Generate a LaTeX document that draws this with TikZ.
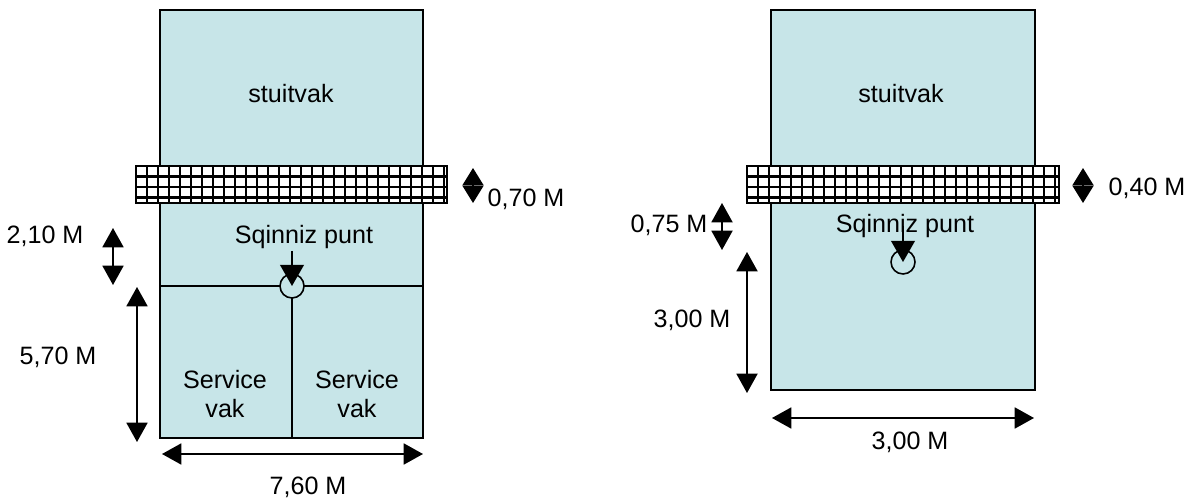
\documentclass[tikz,border=0pt]{standalone}
\usepackage{fontspec}
\setmainfont{Liberation Sans}
\usetikzlibrary{arrows.meta}
\definecolor{courtblue}{RGB}{199,229,232}
\begin{document}
\begin{tikzpicture}[x=0.02cm,y=-0.02cm]
\tikzset{court/.style = {draw,line width=1.1pt,fill=courtblue}}
\tikzset{txt/.style = {font=\fontsize{14.3}{16.5}\selectfont,inner sep=0pt,align=center}}
\tikzset{spot/.style = {shape=circle,draw,fill=courtblue,line width=0.9pt,minimum size=0.48cm,inner sep=0pt}}
\tikzset{dim/.style = {<->,line width=0.9pt,>={Triangle[length=11pt,width=12pt]}}}
\tikzset{pointer/.style = {->,line width=0.9pt,>={Triangle[length=12pt,width=13.5pt]}}}
\tikzset{gauge/.style = {<->,line width=0.9pt,>={Triangle[length=9.9pt,width=12pt]}}}
\tikzset{mesh/.style = {line width=1.4pt}}
\useasboundingbox (0,0) rectangle (1189,499);
% left court
\draw[court] (160,10) rectangle (423,438);
\draw[line width=0.9pt] (160,286) -- (423,286);
\draw[line width=0.9pt] (292,286) -- (292,438);
\node[spot] (spotL) at (292,286) {};
% net left
\fill[white] (136,166) rectangle (447,203);
\foreach \x in {136,147,...,444} \draw[mesh] (\x,166) -- (\x,203);
\foreach \y in {166,176.5,187,197.5} \draw[mesh] (136,\y) -- (447,\y);
\draw[mesh] (136,166) rectangle (447,203);
% texts left
\node[txt] (stuitL) at (291,94) {stuitvak};
\node[txt] (sqL) at (304,237) {Sqinniz punt};
\node[txt] (servL) at (225,394) {Service\\vak};
\node[txt] (servR) at (357,394) {Service\\vak};
\coordinate (pL) at (292,251);
\draw[pointer] (pL) -- (spotL.center);
% dimensions left
\coordinate (a1) at (113,228);
\coordinate (a2) at (113,285);
\draw[dim] (a1) -- (a2);
\node[txt] (d210) at (45,236) {2,10 M};
\coordinate (b1) at (137,287);
\coordinate (b2) at (137,442);
\draw[dim] (b1) -- (b2);
\node[txt] (d570) at (58,357) {5,70 M};
\coordinate (c1) at (162,454);
\coordinate (c2) at (423,454);
\draw[dim] (c1) -- (c2);
\node[txt] (d760) at (308,487) {7,60 M};
\coordinate (g1) at (473,168);
\coordinate (g2) at (473,203);
\draw[gauge] (g1) -- (g2);
\node[txt] (d070) at (526,199) {0,70 M};
% right court
\draw[court] (771,10) rectangle (1035,390);
\node[spot] (spotR) at (903,262) {};
% net right
\fill[white] (747,166) rectangle (1059,203);
\foreach \x in {747,758,...,1056} \draw[mesh] (\x,166) -- (\x,203);
\foreach \y in {166,176.5,187,197.5} \draw[mesh] (747,\y) -- (1059,\y);
\draw[mesh] (747,166) rectangle (1059,203);
% texts right
\node[txt] (stuitR) at (901,94) {stuitvak};
\node[txt] (sqR) at (905,226) {Sqinniz punt};
\coordinate (pR) at (903,226);
\draw[pointer] (pR) -- (spotR.center);
% dimensions right
\coordinate (e1) at (722,203);
\coordinate (e2) at (722,250);
\draw[dim] (e1) -- (e2);
\node[txt] (d075) at (669,225) {0,75 M};
\coordinate (f1) at (747,252);
\coordinate (f2) at (747,393);
\draw[dim] (f1) -- (f2);
\node[txt] (d300v) at (692,320) {3,00 M};
\coordinate (h1) at (772,418);
\coordinate (h2) at (1034,418);
\draw[dim] (h1) -- (h2);
\node[txt] (d300h) at (910,442) {3,00 M};
\coordinate (k1) at (1083,168);
\coordinate (k2) at (1083,203);
\draw[gauge] (k1) -- (k2);
\node[txt] (d040) at (1147,188) {0,40 M};
\end{tikzpicture}
\end{document}
